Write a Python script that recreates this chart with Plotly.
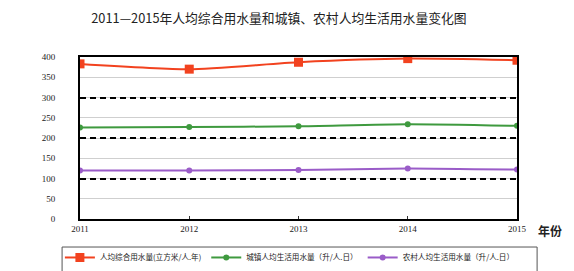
import plotly.graph_objects as go

years = [2011, 2012, 2013, 2014, 2015]
total_per_capita = [383, 370, 387, 396, 392]
urban_domestic = [226, 227, 229, 234, 230]
rural_domestic = [120, 120, 121, 125, 122]
names = ["人均综合用水量(立方米/人.年)", "城镇人均生活用水量（升/人.日）", "农村人均生活用水量（升/人.日）"]
y_ticks = [0, 50, 100, 150, 200, 250, 300, 350, 400]
title = "2011—2015年人均综合用水量和城镇、农村人均生活用水量变化图"

fig = go.Figure()
fig.add_trace(go.Scatter(x=years, y=total_per_capita, name=names[0], mode="lines+markers",
                         line=dict(color="#f2421f", width=2, shape="spline", smoothing=0.6),
                         marker=dict(symbol="square", size=9, color="#f2421f")))
fig.add_trace(go.Scatter(x=years, y=urban_domestic, name=names[1], mode="lines+markers",
                         line=dict(color="#3f9a3f", width=2, shape="spline", smoothing=0.6),
                         marker=dict(symbol="circle", size=6, color="#3f9a3f")))
fig.add_trace(go.Scatter(x=years, y=rural_domestic, name=names[2], mode="lines+markers",
                         line=dict(color="#9a5cc8", width=2, shape="spline", smoothing=0.6),
                         marker=dict(symbol="circle", size=6, color="#9a5cc8")))
# invisible trace to activate overlay axis for black dashed grid
fig.add_trace(go.Scatter(x=[years[0]], y=[0], yaxis="y2", showlegend=False,
                         mode="markers", marker=dict(opacity=0), hoverinfo="skip"))

fig.update_layout(
    width=574, height=271,
    margin=dict(l=72, r=65, t=49, b=60, autoexpand=False),
    paper_bgcolor="white", plot_bgcolor="white",
    title=dict(text=title, x=0.472, xanchor="center", y=0.963, yanchor="middle",
               font=dict(family="Noto Sans CJK SC", size=12.8, color="#222")),
    font=dict(family="Noto Sans CJK SC", color="#222"),
    xaxis=dict(range=[2011, 2015], tickvals=years, ticktext=[str(y) for y in years],
               showgrid=False, zeroline=False, showline=True, mirror=True,
               linecolor="black", linewidth=2, ticks="inside", ticklen=3, tickcolor="#333",
               tickfont=dict(family="Liberation Serif", size=9, color="#222")),
    yaxis=dict(range=[0, 400], tickvals=y_ticks, showgrid=True, gridcolor="#cfcfcf", gridwidth=1,
               zeroline=False, showline=True, mirror=True, linecolor="black", linewidth=2,
               ticks="", ticklabelstandoff=21,
               tickfont=dict(family="Liberation Serif", size=9, color="#222")),
    yaxis2=dict(range=[0, 400], overlaying="y", dtick=100, showgrid=True, gridcolor="black",
                gridwidth=2, griddash="6px,4px", showticklabels=False, zeroline=False,
                showline=False, layer="below traces"),
    legend=dict(orientation="h", x=-0.046, xanchor="left", y=-0.148, yanchor="top",
                borderwidth=0, bgcolor="rgba(0,0,0,0)",
                font=dict(family="Noto Sans CJK SC", size=7.6, color="#222"),
                itemwidth=30, tracegroupgap=0),
    showlegend=True,
)
# legend frame (extends past the bottom edge as in the reference)
fig.add_shape(type="rect", xref="paper", yref="paper", x0=-0.041, x1=1.046, y0=-0.173, y1=-0.5,
              line=dict(color="#555", width=1), fillcolor="rgba(0,0,0,0)", layer="above")
fig.add_annotation(text="<b>年份</b>", xref="paper", yref="paper", x=1.043, y=-0.068,
                   xanchor="left", yanchor="middle", showarrow=False,
                   font=dict(family="Noto Sans CJK SC", size=12, color="#222"))

fig.write_html("out.html")
